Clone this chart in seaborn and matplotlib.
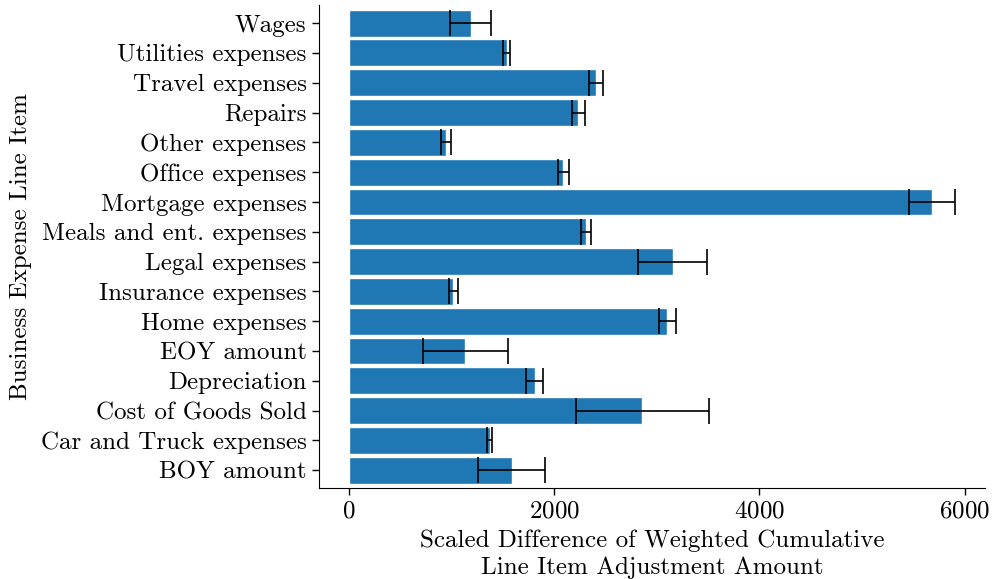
import matplotlib
matplotlib.use("Agg")
import matplotlib.pyplot as plt
import seaborn as sns
import pandas as pd
import numpy as np

# top to bottom, as they appear on the chart
items = ["Wages", "Utilities expenses", "Travel expenses", "Repairs",
         "Other expenses", "Office expenses", "Mortgage expenses",
         "Meals and ent. expenses", "Legal expenses", "Insurance expenses",
         "Home expenses", "EOY amount", "Depreciation", "Cost of Goods Sold",
         "Car and Truck expenses", "BOY amount"]
means = [1190, 1537, 2408, 2237, 948, 2090, 5680, 2312, 3155, 1020,
         3104, 1135, 1810, 2862, 1372, 1586]
errs = [200, 35, 72, 60, 45, 53, 225, 45, 336, 47,
        80, 412, 81, 645, 26, 328]

df = pd.DataFrame({"item": items, "amount": means, "err": errs})

sns.set_style("ticks")
plt.rcParams["font.family"] = ["cmr10", "DejaVu Serif"]
plt.rcParams["axes.formatter.use_mathtext"] = True
plt.rcParams["axes.edgecolor"] = "black"
plt.rcParams["axes.labelcolor"] = "black"
plt.rcParams["text.color"] = "black"
plt.rcParams["xtick.color"] = "black"
plt.rcParams["ytick.color"] = "black"

fig = plt.figure(figsize=(9.92, 5.79), dpi=100)
ax = fig.add_axes([0.3216, 0.157, 0.6714, 0.834])

sns.barplot(data=df, x="amount", y="item", order=items, orient="h",
            color="#1f77b4", saturation=1, width=0.9, errorbar=None, ax=ax)
ax.errorbar(df["amount"], np.arange(len(items)), xerr=df["err"], fmt="none",
            ecolor="black", elinewidth=1.2, capsize=9.7, capthick=1.2)

ax.set_xlim(-290, 6200)
ax.set_ylim(15.6, -0.6)
ax.set_xticks([0, 2000, 4000, 6000])
ax.tick_params(labelsize=18, length=5, width=1, pad=4)
ax.set_xlabel("Scaled Difference of Weighted Cumulative\nLine Item Adjustment Amount",
              fontsize=18, labelpad=5, linespacing=1.25)
ax.set_ylabel("Business Expense Line Item", fontsize=18, labelpad=6)
sns.despine(ax=ax)

fig.savefig("out.png", dpi=100)
